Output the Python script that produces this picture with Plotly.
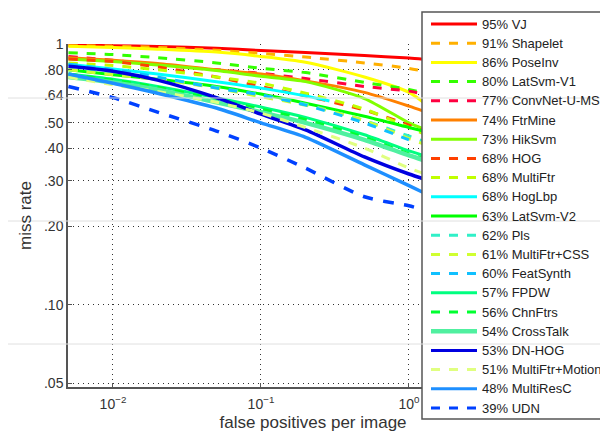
import plotly.graph_objects as go

# ---------------- data ----------------
FPPI = [0.005, 0.01, 0.02, 0.05, 0.1, 0.2, 0.5, 1.0, 1.25]

methods = ["VJ", "Shapelet", "PoseInv", "LatSvm-V1", "ConvNet-U-MS", "FtrMine",
           "HikSvm", "HOG", "MultiFtr", "HogLbp", "LatSvm-V2", "Pls",
           "MultiFtr+CSS", "FeatSynth", "FPDW", "ChnFtrs", "CrossTalk",
           "DN-HOG", "MultiFtr+Motion", "MultiResC", "UDN"]
avg_miss = [95, 91, 86, 80, 77, 74, 73, 68, 68, 68, 63, 62, 61, 60, 57, 56, 54,
            53, 51, 48, 39]

vj           = [0.995, 0.99, 0.982, 0.968, 0.948, 0.932, 0.907, 0.887, 0.878]
shapelet     = [0.99, 0.985, 0.975, 0.95, 0.925, 0.895, 0.85, 0.81, 0.79]
poseinv      = [0.985, 0.975, 0.96, 0.935, 0.90, 0.855, 0.75, 0.655, 0.60]
latsvm_v1    = [0.93, 0.915, 0.89, 0.85, 0.81, 0.78, 0.715, 0.672, 0.652]
convnet      = [0.90, 0.87, 0.835, 0.80, 0.775, 0.74, 0.69, 0.662, 0.645]
ftrmine      = [0.89, 0.87, 0.845, 0.80, 0.77, 0.725, 0.655, 0.58, 0.555]
hiksvm       = [0.88, 0.86, 0.835, 0.795, 0.755, 0.72, 0.62, 0.50, 0.475]
hog          = [0.88, 0.86, 0.82, 0.75, 0.69, 0.635, 0.56, 0.49, 0.465]
multiftr     = [0.85, 0.83, 0.80, 0.75, 0.71, 0.65, 0.565, 0.48, 0.455]
latsvm_v2    = [0.80, 0.765, 0.735, 0.69, 0.645, 0.595, 0.53, 0.48, 0.465]
pls          = [0.80, 0.775, 0.74, 0.685, 0.64, 0.59, 0.51, 0.445, 0.425]
multiftr_css = [0.80, 0.765, 0.735, 0.68, 0.63, 0.585, 0.51, 0.435, 0.415]
fpdw         = [0.77, 0.735, 0.69, 0.625, 0.575, 0.525, 0.45, 0.39, 0.375]
chnftrs      = [0.77, 0.73, 0.685, 0.615, 0.565, 0.515, 0.44, 0.38, 0.365]
crosstalk    = [0.75, 0.715, 0.67, 0.60, 0.55, 0.50, 0.43, 0.375, 0.36]
dn_hog       = [0.825, 0.79, 0.73, 0.625, 0.54, 0.47, 0.37, 0.318, 0.305]
multiftr_mot = [0.75, 0.70, 0.66, 0.60, 0.545, 0.48, 0.40, 0.335, 0.32]
multiresc    = [0.77, 0.71, 0.65, 0.57, 0.50, 0.44, 0.345, 0.287, 0.27]
udn          = [0.69, 0.625, 0.55, 0.465, 0.40, 0.335, 0.26, 0.24, 0.232]

# curves that stop earlier
hoglbp_fppi  = [0.005, 0.01, 0.02, 0.05, 0.1, 0.2, 0.29]
hoglbp       = [0.84, 0.805, 0.77, 0.72, 0.68, 0.635, 0.607]
featsyn_fppi = [0.005, 0.01, 0.02, 0.05, 0.1, 0.2, 0.5, 1.0]
featsynth    = [0.84, 0.80, 0.75, 0.68, 0.64, 0.585, 0.50, 0.43]

series_fppi = [FPPI, FPPI, FPPI, FPPI, FPPI, FPPI, FPPI, FPPI, FPPI, hoglbp_fppi,
               FPPI, FPPI, FPPI, featsyn_fppi, FPPI, FPPI, FPPI, FPPI, FPPI, FPPI, FPPI]
series_mr = [vj, shapelet, poseinv, latsvm_v1, convnet, ftrmine, hiksvm, hog,
             multiftr, hoglbp, latsvm_v2, pls, multiftr_css, featsynth, fpdw,
             chnftrs, crosstalk, dn_hog, multiftr_mot, multiresc, udn]

y_ticks = [0.05, 0.10, 0.20, 0.30, 0.40, 0.50, 0.64, 0.80, 1.0]
y_tick_text = [".05", ".10", ".20", ".30", ".40", ".50", ".64", ".80", "1"]
x_ticks = [0.01, 0.1, 1.0]
x_tick_text = ["10<sup>\u22122</sup>", "10<sup>\u22121</sup>", "10<sup>0</sup>"]

# ---------------- styles ----------------
colors = ["#ff0000", "#ffb000", "#ffff00", "#33ff00", "#ff0040", "#ff8000",
          "#80ff00", "#ff4000", "#c0ff00", "#00ffff", "#00ff00", "#30f0c8",
          "#d0ff30", "#10c0ff", "#00ff80", "#00ff30", "#50f0a0",
          "#0000e0", "#e0ff80", "#1e8fff", "#0040ff"]
dashes = ["solid", "dash", "solid", "dash", "dash", "solid", "solid", "dash",
          "dash", "solid", "solid", "dash", "dash", "dash", "solid", "dash",
          "solid", "solid", "dash", "solid", "dash"]
widths = [3, 3, 3, 3, 3, 3, 3, 3, 3, 3, 3, 3, 3, 3, 3, 3, 4.5, 3.5, 3, 3.5, 3.5]

# The page body has an 8px margin, so screen coordinates are figure + 8.
OFF = 8
W, H = 608, 435
L, R, T, B = 68 - OFF, 50 + OFF, 44 - OFF, 48 + OFF
pw, ph = W - L - R, H - T - B


def px(xs):
    """screen x pixel -> paper x"""
    return (xs - OFF - L) / pw


def py(ys):
    """screen y pixel -> paper y"""
    return (T + ph - (ys - OFF)) / ph


fig = go.Figure()
for name, fx, mr, c, d, w in zip(methods, series_fppi, series_mr, colors, dashes, widths):
    fig.add_trace(go.Scatter(x=fx, y=mr, mode="lines", name=name,
                             line=dict(color=c, dash=d, width=w, shape="spline", smoothing=0.7),
                             showlegend=False, hoverinfo="skip"))

font_family = "Liberation Sans, Arial, sans-serif"
shapes = []
annotations = []

# legend box (MATLAB style, covers right part of axes)
shapes.append(dict(type="rect", xref="paper", yref="paper",
                   x0=px(422), x1=px(640), y0=py(419), y1=py(12),
                   fillcolor="white", line=dict(color="#555555", width=1.5), layer="above"))
for i, (name, pct, c, d) in enumerate(zip(methods, avg_miss, colors, dashes)):
    yy = py(24 + 19.2 * i)
    lw = 4.5 if name == "CrossTalk" else 3
    shapes.append(dict(type="line", xref="paper", yref="paper",
                       x0=px(431), x1=px(477), y0=yy, y1=yy,
                       line=dict(color=c, width=lw, dash=d), layer="above"))
    annotations.append(dict(xref="paper", yref="paper", x=px(480), y=yy,
                            xanchor="left", yanchor="middle", showarrow=False,
                            text=f"{pct}% {name}",
                            font=dict(family=font_family, size=13, color="#222222")))

# faint horizontal scan lines present in the reference image
for yp in [98, 221, 344]:
    shapes.append(dict(type="line", xref="paper", yref="paper",
                       x0=px(0), x1=px(W + 20), y0=py(yp), y1=py(yp),
                       line=dict(color="#e0e0e0", width=1), layer="above"))

fig.update_layout(
    width=W, height=H,
    margin=dict(l=L, r=R, t=T, b=B, pad=0, autoexpand=False),
    paper_bgcolor="white", plot_bgcolor="white",
    font=dict(family=font_family, color="#333333"),
    shapes=shapes, annotations=annotations,
    showlegend=False,
)
fig.update_xaxes(type="log", range=[-2.304, 1.007], automargin=False,
                 tickvals=x_ticks, ticktext=x_tick_text,
                 tickfont=dict(size=14, color="#333333"), ticklabelstandoff=3,
                 showgrid=True, gridcolor="#333333", gridwidth=1, griddash="1px,4px",
                 showline=True, linecolor="#555555", linewidth=1.5,
                 ticks="inside", ticklen=4, tickcolor="#555555",
                 zeroline=False,
                 title=dict(text="false positives per image",
                            font=dict(size=17, color="#333333"), standoff=6))
fig.update_yaxes(type="log", range=[-1.316, 0.002], automargin=False,
                 tickvals=y_ticks, ticktext=y_tick_text,
                 tickfont=dict(size=14, color="#333333"),
                 showgrid=True, gridcolor="#333333", gridwidth=1, griddash="1px,4px",
                 showline=True, linecolor="#555555", linewidth=1.5,
                 ticks="inside", ticklen=4, tickcolor="#555555",
                 zeroline=False,
                 title=dict(text="miss rate", font=dict(size=17, color="#333333"), standoff=8))

fig.write_html("out.html")
